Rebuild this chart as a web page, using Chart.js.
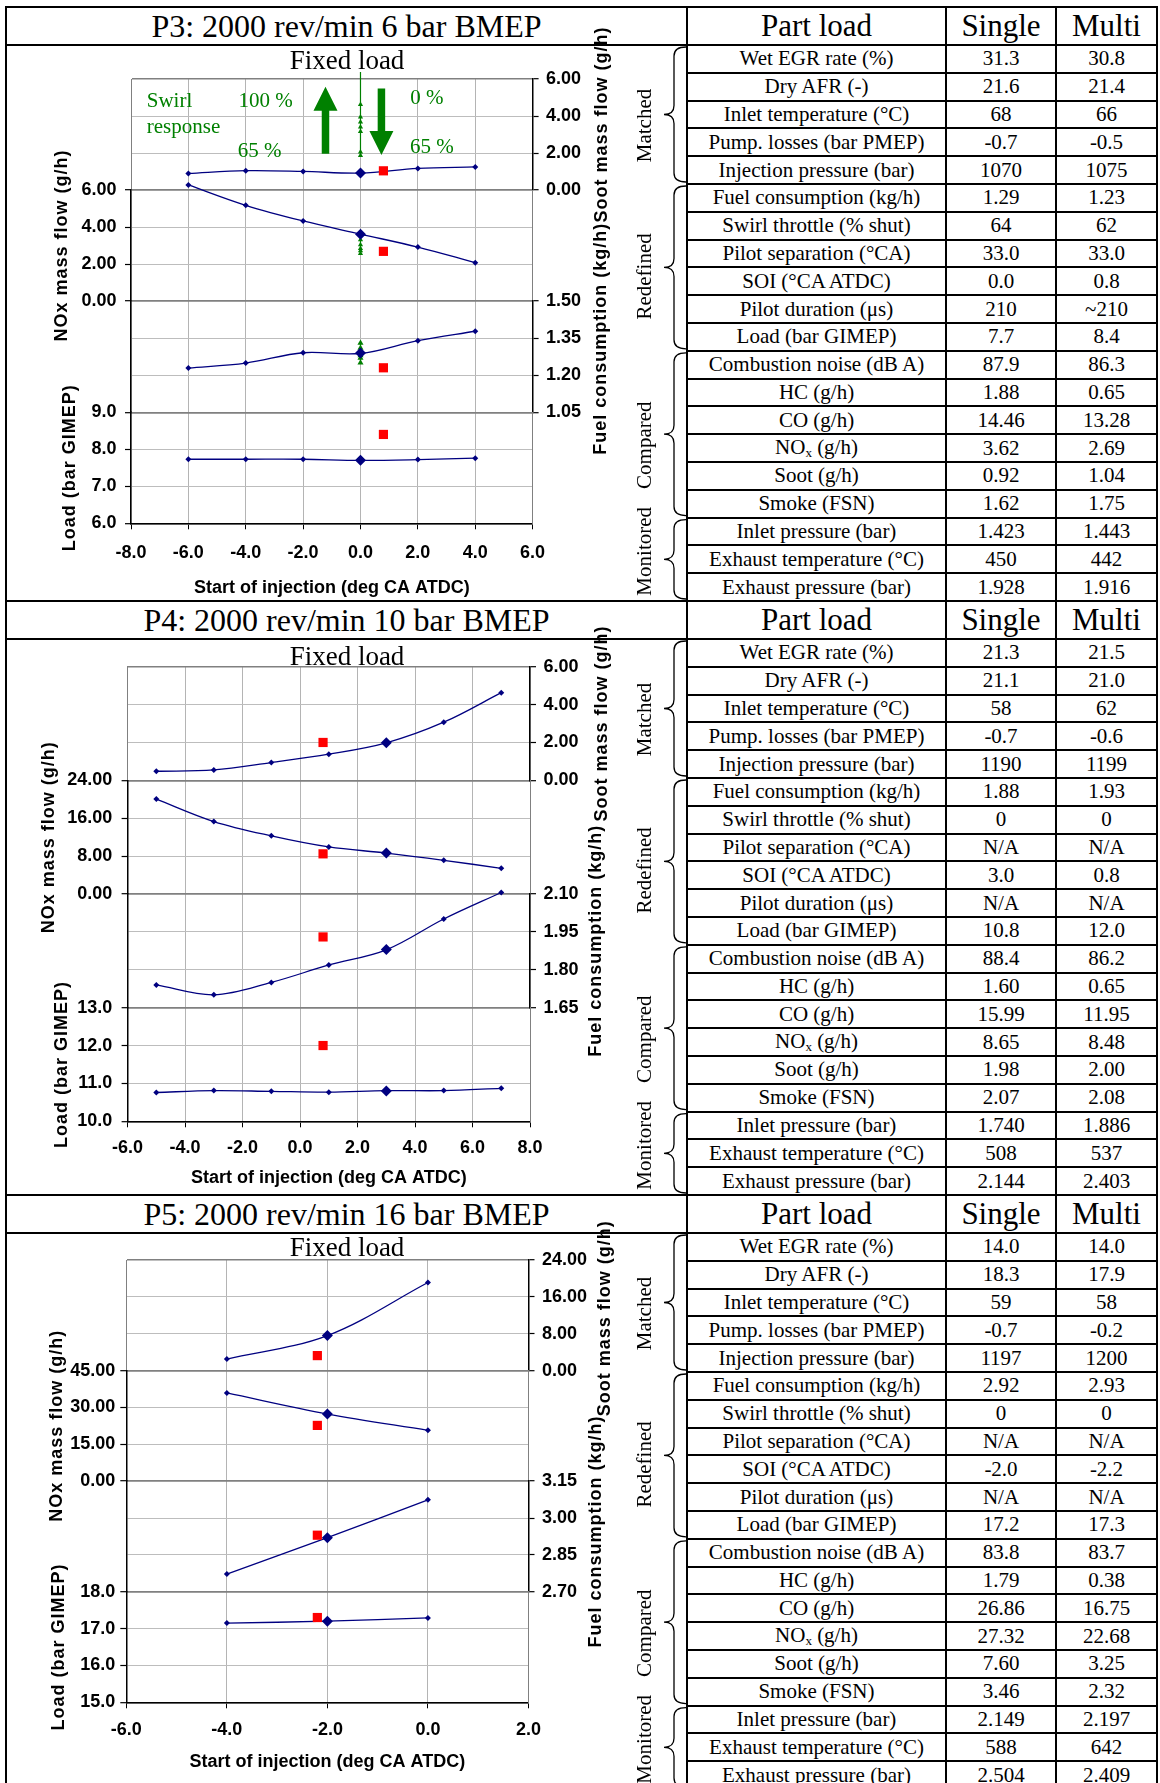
<!DOCTYPE html>
<html>
<head>
<meta charset="utf-8">
<script src="https://cdn.jsdelivr.net/npm/chart.js@4.4.0/dist/chart.umd.min.js"></script>
<style>
  body { margin: 0; background: #fff; }
  #page { position: relative; width: 1160px; height: 1783px; overflow: hidden; background: #fff; }
  .ln { position: absolute; background: #000; }
  .cell { position: absolute; display: flex; align-items: center; justify-content: center;
          font-family: 'Liberation Serif', 'Times New Roman', serif; color: #000; white-space: nowrap; }
  .cell sub { font-size: 13px; vertical-align: -3px; }
  canvas { position: absolute; }
</style>
</head>
<body>
<div id="page"></div>
<script>
// ---- table text ----
const rowLabels = ['Wet EGR rate (%)', 'Dry AFR (-)', 'Inlet temperature (°C)', 'Pump. losses (bar PMEP)',
  'Injection pressure (bar)', 'Fuel consumption (kg/h)', 'Swirl throttle (% shut)', 'Pilot separation (°CA)',
  'SOI (°CA ATDC)', 'Pilot duration (μs)', 'Load (bar GIMEP)', 'Combustion noise (dB A)', 'HC (g/h)',
  'CO (g/h)', 'NO<sub>x</sub> (g/h)', 'Soot (g/h)', 'Smoke (FSN)', 'Inlet pressure (bar)',
  'Exhaust temperature (°C)', 'Exhaust pressure (bar)'];
const groupNames = ['Matched', 'Redefined', 'Compared', 'Monitored'];
const groupSizes = [5, 6, 6, 3];

const p3Single = ['31.3', '21.6', '68', '-0.7', '1070', '1.29', '64', '33.0', '0.0', '210', '7.7', '87.9', '1.88', '14.46', '3.62', '0.92', '1.62', '1.423', '450', '1.928'];
const p3Multi  = ['30.8', '21.4', '66', '-0.5', '1075', '1.23', '62', '33.0', '0.8', '~210', '8.4', '86.3', '0.65', '13.28', '2.69', '1.04', '1.75', '1.443', '442', '1.916'];
const p4Single = ['21.3', '21.1', '58', '-0.7', '1190', '1.88', '0', 'N/A', '3.0', 'N/A', '10.8', '88.4', '1.60', '15.99', '8.65', '1.98', '2.07', '1.740', '508', '2.144'];
const p4Multi  = ['21.5', '21.0', '62', '-0.6', '1199', '1.93', '0', 'N/A', '0.8', 'N/A', '12.0', '86.2', '0.65', '11.95', '8.48', '2.00', '2.08', '1.886', '537', '2.403'];
const p5Single = ['14.0', '18.3', '59', '-0.7', '1197', '2.92', '0', 'N/A', '-2.0', 'N/A', '17.2', '83.8', '1.79', '26.86', '27.32', '7.60', '3.46', '2.149', '588', '2.504'];
const p5Multi  = ['14.0', '17.9', '58', '-0.2', '1200', '2.93', '0', 'N/A', '-2.2', 'N/A', '17.3', '83.7', '0.38', '16.75', '22.68', '3.25', '2.32', '2.197', '642', '2.409'];

// ---- chart series (SOI sweeps) ----
const p3Soi  = [-6, -4, -2, 0, 2, 4];
const p3Soot = [0.90, 1.05, 1.01, 0.92, 1.17, 1.25];
const p3Nox  = [6.28, 5.18, 4.33, 3.62, 2.92, 2.08];
const p3Fuel = [1.229, 1.249, 1.291, 1.288, 1.340, 1.378];
const p3Load = [7.73, 7.73, 7.73, 7.70, 7.72, 7.76];
// swirl sweep at fixed SOI (green)
const p3SwirlSoot = [6.38, 4.62, 3.95, 3.68, 3.41, 3.17, 2.05, 1.87];
const p3SwirlNox  = [3.62, 3.32, 3.05, 2.85, 2.72, 2.58];
const p3SwirlFuel = [1.33, 1.31, 1.29, 1.28, 1.27, 1.25];
const p3SwirlLoad = [7.73, 7.71, 7.69];

const p4Soi  = [-5, -3, -1, 1, 3, 5, 7];
const p4Soot = [0.48, 0.55, 0.94, 1.38, 1.98, 3.07, 4.63];
const p4Nox  = [20.04, 15.30, 12.28, 9.95, 8.65, 7.12, 5.43];
const p4Fuel = [1.740, 1.701, 1.750, 1.819, 1.879, 2.001, 2.106];
const p4Load = [10.76, 10.81, 10.79, 10.77, 10.81, 10.81, 10.87];

const p5Soi  = [-4, -2, 0];
const p5Soot = [2.51, 7.60, 19.12];
const p5Nox  = [35.9, 27.32, 20.7];
const p5Fuel = [2.772, 2.92, 3.074];
const p5Load = [17.15, 17.2, 17.29];

// axis ranges: [min, max, step]
const p3XAxis = [-8, 6, 2], p3SootAxis = [0, 6, 2], p3NoxAxis = [0, 6, 2], p3FuelAxis = [1.05, 1.50, 0.15], p3LoadAxis = [6, 9, 1];
const p4XAxis = [-6, 8, 2], p4SootAxis = [0, 6, 2], p4NoxAxis = [0, 24, 8], p4FuelAxis = [1.65, 2.10, 0.15], p4LoadAxis = [10, 13, 1];
const p5XAxis = [-6, 2, 2], p5SootAxis = [0, 24, 8], p5NoxAxis = [0, 45, 15], p5FuelAxis = [2.70, 3.15, 0.15], p5LoadAxis = [15, 18, 1];

const SANS = "'Liberation Sans', Arial, sans-serif";
const SERIF = "'Liberation Serif', 'Times New Roman', serif";
const NAVY = '#000080', RED = '#ff0000', GREEN = '#008000';
const LIGHT = '#bdbdbd', DARK = '#808080';
const ROW_H = 27.8, HEAD_H = 38, CW = 679, CH = 592;
const OFF = HEAD_H; // canvas starts at the top of the section header

// row indexes of the plotted quantities in the table
const R_FUEL = 5, R_SOI = 8, R_LOAD = 10, R_NOX = 14, R_SOOT = 15;

const sections = [
  { T: 6, title: 'P3: 2000 rev/min 6 bar BMEP', single: p3Single, multi: p3Multi,
    soi: p3Soi, soot: p3Soot, nox: p3Nox, fuel: p3Fuel, load: p3Load,
    xr: p3XAxis, sootR: p3SootAxis, noxR: p3NoxAxis, fuelR: p3FuelAxis, loadR: p3LoadAxis,
    top: 33, bottom: 477.3, left: 124, right: 525.6, lPad: 8.4, xPad: 12.9, xTitlePad: 1.2, fixedY: 23,
    titleX: { nox: 54.6, load: 63.4, soot: 594.7, fuel: 593.8 }, titleDy: { soot: -10, fuel: -18 }, swirl: true },
  { T: 600, title: 'P4: 2000 rev/min 10 bar BMEP', single: p4Single, multi: p4Multi,
    soi: p4Soi, soot: p4Soot, nox: p4Nox, fuel: p4Fuel, load: p4Load,
    xr: p4XAxis, sootR: p4SootAxis, noxR: p4NoxAxis, fuelR: p4FuelAxis, loadR: p4LoadAxis,
    top: 26.7, bottom: 481.3, left: 120.6, right: 523, lPad: 9.4, xPad: 10.2, xTitlePad: 4.9, fixedY: 25,
    titleX: { nox: 42.3, load: 54.6, soot: 595, fuel: 589 }, titleDy: { soot: 0, fuel: -10 }, swirl: false },
  { T: 1194, title: 'P5: 2000 rev/min 16 bar BMEP', single: p5Single, multi: p5Multi,
    soi: p5Soi, soot: p5Soot, nox: p5Nox, fuel: p5Fuel, load: p5Load,
    xr: p5XAxis, sootR: p5SootAxis, noxR: p5NoxAxis, fuelR: p5FuelAxis, loadR: p5LoadAxis,
    top: 26, bottom: 468.3, left: 119.3, right: 521.5, lPad: 5, xPad: 10.9, xTitlePad: 15.5, fixedY: 21.7,
    titleX: { nox: 50, load: 52.4, soot: 598, fuel: 589.4 }, titleDy: { soot: 3, fuel: -5 }, swirl: false }
];

const page = document.getElementById('page');

function line(x, y, w, h) {
  const d = document.createElement('div');
  d.className = 'ln';
  d.style.cssText = `left:${x}px;top:${y}px;width:${w}px;height:${h}px`;
  page.appendChild(d);
}
function cell(x, y, w, h, html, size) {
  const d = document.createElement('div');
  d.className = 'cell';
  d.style.cssText = `left:${x}px;top:${y}px;width:${w}px;height:${h}px;font-size:${size}px`;
  d.innerHTML = `<span>${html}</span>`;
  page.appendChild(d);
}

// ---- table grid and text ----
sections.forEach(s => {
  const T = s.T;
  line(5, T, 1153, 2);
  line(5, T + HEAD_H, 1153, 2);
  for (let k = 1; k < 20; k++) line(686, T + HEAD_H + ROW_H * k, 472, 2);
  line(945, T, 2, 596);
  line(1055, T, 2, 596);
  cell(7, T + 2, 679, HEAD_H - 2, s.title, 32);
  cell(688, T + 2, 257, HEAD_H - 2, 'Part load', 31);
  cell(947, T + 2, 108, HEAD_H - 2, 'Single', 31);
  cell(1057, T + 2, 99, HEAD_H - 2, 'Multi', 31);
  rowLabels.forEach((lab, k) => {
    const y = T + HEAD_H + 2 + ROW_H * k;
    cell(688, y, 257, ROW_H - 2, lab, 21);
    cell(947, y, 108, ROW_H - 2, s.single[k], 21);
    cell(1057, y, 99, ROW_H - 2, s.multi[k], 21);
  });
});
line(5, 6, 2, 1777);
line(686, 6, 2, 1777);
line(1156, 6, 2, 1777);

// ---- chart helpers ----
const tickFont = { family: SANS, size: 18, weight: 'bold' };

function pts(xs, ys) { return ys.map((y, i) => ({ x: xs[i], y })); }
function col(x, ys) { return ys.map(y => ({ x, y })); }

function mainSet(xs, ys, axis) {
  return { data: pts(xs, ys), yAxisID: axis, borderColor: NAVY, borderWidth: 1.3, tension: 0.35,
    pointStyle: 'rectRot', pointRadius: 3, pointBackgroundColor: NAVY, pointBorderColor: NAVY,
    pointBorderWidth: 0, clip: false };
}
function markSet(x, y, axis, style, r, c) {
  return { data: [{ x, y }], yAxisID: axis, showLine: false, pointStyle: style, pointRadius: r,
    pointBackgroundColor: c, pointBorderColor: c, pointBorderWidth: 0, clip: false };
}
function swirlSet(x, ys, axis, style, r) {
  return { data: col(x, ys), yAxisID: axis, borderColor: GREEN, borderWidth: 1.2, tension: 0,
    pointStyle: style, pointRadius: ys.map((v, i) => (axis === 'soot' && i === 0) ? 0 : r),
    pointBackgroundColor: GREEN, pointBorderColor: GREEN, pointBorderWidth: 0, clip: false };
}

function yAxis(pos, weight, rng, labeled, dec, width, pad, dark) {
  return {
    type: 'linear', position: pos, stack: pos === 'left' ? 'L' : 'R', stackWeight: 1, weight: weight,
    min: rng[0], max: rng[1],
    ticks: { display: labeled, stepSize: rng[2], autoSkip: false, font: tickFont, color: '#000', padding: pad,
      callback: v => Number(v).toFixed(dec) },
    grid: { drawOnChartArea: pos === 'left',
      color: c => (c.index === 0 || c.index === 3) ? DARK : LIGHT,
      lineWidth: c => (c.index === 0 || c.index === 3) ? 1.4 : 1,
      drawTicks: labeled, tickLength: 6, tickColor: '#000', tickWidth: 1.2 },
    border: { display: true, color: dark ? '#000' : DARK, width: dark ? 1.5 : 1 },
    afterFit: s => { s.width = width; }
  };
}

function brace(ctx, xEnd, xSpine, xTip, y0, y1) {
  const m = (y0 + y1) / 2, r = 9;
  ctx.beginPath();
  ctx.moveTo(xEnd, y0);
  ctx.quadraticCurveTo(xSpine, y0, xSpine, y0 + r);
  ctx.lineTo(xSpine, m - r);
  ctx.quadraticCurveTo(xSpine, m, xTip, m);
  ctx.quadraticCurveTo(xSpine, m, xSpine, m + r);
  ctx.lineTo(xSpine, y1 - r);
  ctx.quadraticCurveTo(xSpine, y1, xEnd, y1);
  ctx.stroke();
}

function arrow(ctx, x, yTail, yTip, shaftW, headW, headLen) {
  const dir = yTip < yTail ? -1 : 1;
  const yBase = yTip - dir * headLen;
  ctx.beginPath();
  ctx.moveTo(x - shaftW / 2, yTail);
  ctx.lineTo(x - shaftW / 2, yBase);
  ctx.lineTo(x - headW / 2, yBase);
  ctx.lineTo(x, yTip);
  ctx.lineTo(x + headW / 2, yBase);
  ctx.lineTo(x + shaftW / 2, yBase);
  ctx.lineTo(x + shaftW / 2, yTail);
  ctx.closePath();
  ctx.fill();
}

// swirl annotation (data units: SOI, soot)
const swirlTexts = [['Swirl', -7.45, 4.77, 'left'], ['response', -7.45, 3.39, 'left'],
  ['100 %', -3.31, 4.80, 'center'], ['65 %', -3.52, 2.08, 'center'],
  ['0 %', 2.31, 4.97, 'center'], ['65 %', 2.49, 2.30, 'center']];
const swirlArrows = [[-1.22, 1.96, 5.58], [0.73, 5.49, 1.90]];

const deco = {
  id: 'deco',
  afterDraw(chart, args, o) {
    const ctx = chart.ctx, sc = chart.scales;
    ctx.save();
    ctx.fillStyle = '#000';
    ctx.font = `27px ${SERIF}`;
    ctx.textAlign = 'center';
    ctx.textBaseline = 'alphabetic';
    ctx.fillText('Fixed load', 340, o.fixedY + OFF);

    // axis titles, all reading bottom-to-top
    ctx.font = `bold 18px ${SANS}`;
    ctx.textBaseline = 'middle';
    if ('letterSpacing' in ctx) ctx.letterSpacing = '1px';
    [['nox', 'NOx mass flow (g/h)'], ['load', 'Load (bar GIMEP)'],
     ['soot', 'Soot mass flow (g/h)'], ['fuel', 'Fuel consumption (kg/h)']].forEach(([id, txt]) => {
      const s = sc[id];
      const y = (s.top + s.bottom) / 2 + (o.titleDy[id] || 0);
      ctx.save();
      ctx.translate(o.titleX[id], y);
      ctx.rotate(-Math.PI / 2);
      ctx.fillText(txt, 0, 0);
      ctx.restore();
    });
    if ('letterSpacing' in ctx) ctx.letterSpacing = '0px';

    // group braces and labels
    ctx.strokeStyle = '#000';
    ctx.lineWidth = 1.3;
    ctx.font = `21px ${SERIF}`;
    const offs = [11, 9, 11, -8];
    let k = 0;
    groupSizes.forEach((n, g) => {
      const y0 = OFF - 1 + ROW_H * k + 2, y1 = OFF - 1 + ROW_H * (k + n) - 2;
      brace(ctx, CW, 667, 657, y0, y1);
      ctx.save();
      ctx.translate(638, (y0 + y1) / 2 + offs[g]);
      ctx.rotate(-Math.PI / 2);
      ctx.fillText(groupNames[g], 0, 0);
      ctx.restore();
      k += n;
    });

    // swirl response annotation
    if (o.swirl) {
      const x = sc.x, y = sc.soot;
      ctx.fillStyle = GREEN;
      swirlArrows.forEach(a => arrow(ctx, x.getPixelForValue(a[0]), y.getPixelForValue(a[1]),
        y.getPixelForValue(a[2]), 7.5, 24, 24));
      ctx.font = `21px ${SERIF}`;
      swirlTexts.forEach(t => {
        ctx.textAlign = t[3];
        ctx.fillText(t[0], x.getPixelForValue(t[1]), y.getPixelForValue(t[2]));
      });
    }
    ctx.restore();
  }
};

// ---- charts ----
sections.forEach(s => {
  const cv = document.createElement('canvas');
  cv.width = CW; cv.height = CH;
  cv.style.left = '7px';
  cv.style.top = (s.T + 2) + 'px';
  cv.style.width = CW + 'px';
  cv.style.height = CH + 'px';
  page.appendChild(cv);

  const xs = parseFloat(s.single[R_SOI]), xm = parseFloat(s.multi[R_SOI]);
  const rightW = CW - s.right;
  const datasets = [
    markSet(xm, parseFloat(s.multi[R_SOOT]), 'soot', 'rect', 6.5, RED),
    markSet(xm, parseFloat(s.multi[R_NOX]), 'nox', 'rect', 6.5, RED),
    markSet(xm, parseFloat(s.multi[R_FUEL]), 'fuel', 'rect', 6.5, RED),
    markSet(xm, parseFloat(s.multi[R_LOAD]), 'load', 'rect', 6.5, RED),
    markSet(xs, parseFloat(s.single[R_SOOT]), 'soot', 'rectRot', 5.5, NAVY),
    markSet(xs, parseFloat(s.single[R_NOX]), 'nox', 'rectRot', 5.5, NAVY),
    markSet(xs, parseFloat(s.single[R_FUEL]), 'fuel', 'rectRot', 5.5, NAVY),
    markSet(xs, parseFloat(s.single[R_LOAD]), 'load', 'rectRot', 5.5, NAVY)
  ];
  if (s.swirl) {
    datasets.push(swirlSet(xs, p3SwirlSoot, 'soot', 'triangle', 3));
    datasets.push(swirlSet(xs, p3SwirlNox, 'nox', 'triangle', 3));
    datasets.push(swirlSet(xs, p3SwirlFuel, 'fuel', 'triangle', 3.5));
    datasets.push(swirlSet(xs, p3SwirlLoad, 'load', 'rectRot', 4));
  }
  datasets.push(mainSet(s.soi, s.soot, 'soot'));
  datasets.push(mainSet(s.soi, s.nox, 'nox'));
  datasets.push(mainSet(s.soi, s.fuel, 'fuel'));
  datasets.push(mainSet(s.soi, s.load, 'load'));

  new Chart(cv, {
    type: 'line',
    data: { datasets },
    options: {
      responsive: false,
      animation: false,
      devicePixelRatio: 1,
      layout: { padding: { top: s.top + OFF, left: 0, right: 0, bottom: 0 } },
      plugins: {
        legend: { display: false },
        tooltip: { enabled: false },
        deco: { fixedY: s.fixedY, titleX: s.titleX, titleDy: s.titleDy, swirl: s.swirl }
      },
      scales: {
        x: {
          type: 'linear', position: 'bottom', min: s.xr[0], max: s.xr[1],
          ticks: { stepSize: s.xr[2], autoSkip: false, font: tickFont, color: '#000', padding: s.xPad,
            callback: v => Number(v).toFixed(1) },
          grid: { color: '#b4b4b4', tickLength: 6, tickColor: '#000' },
          border: { color: '#000', width: 1.6 },
          title: { display: true, text: 'Start of injection (deg CA ATDC)', color: '#000',
            font: { family: SANS, size: 18, weight: 'bold' }, padding: { top: 0, bottom: s.xTitlePad } },
          afterFit: sc => { sc.height = CH - OFF - s.bottom; }
        },
        l0:   yAxis('left', 4, [0, 3, 1], false, 0, s.left, s.lPad, false),
        nox:  yAxis('left', 3, s.noxR, true, 2, s.left, s.lPad, true),
        l2:   yAxis('left', 2, [0, 3, 1], false, 0, s.left, s.lPad, true),
        load: yAxis('left', 1, s.loadR, true, 1, s.left, s.lPad, true),
        soot: yAxis('right', 1, s.sootR, true, 2, rightW, 7.5, true),
        r1:   yAxis('right', 2, [0, 3, 1], false, 0, rightW, 7.5, false),
        fuel: yAxis('right', 3, s.fuelR, true, 2, rightW, 7.5, true),
        r3:   yAxis('right', 4, [0, 3, 1], false, 0, rightW, 7.5, false)
      }
    },
    plugins: [deco]
  });
});
</script>
</body>
</html>
